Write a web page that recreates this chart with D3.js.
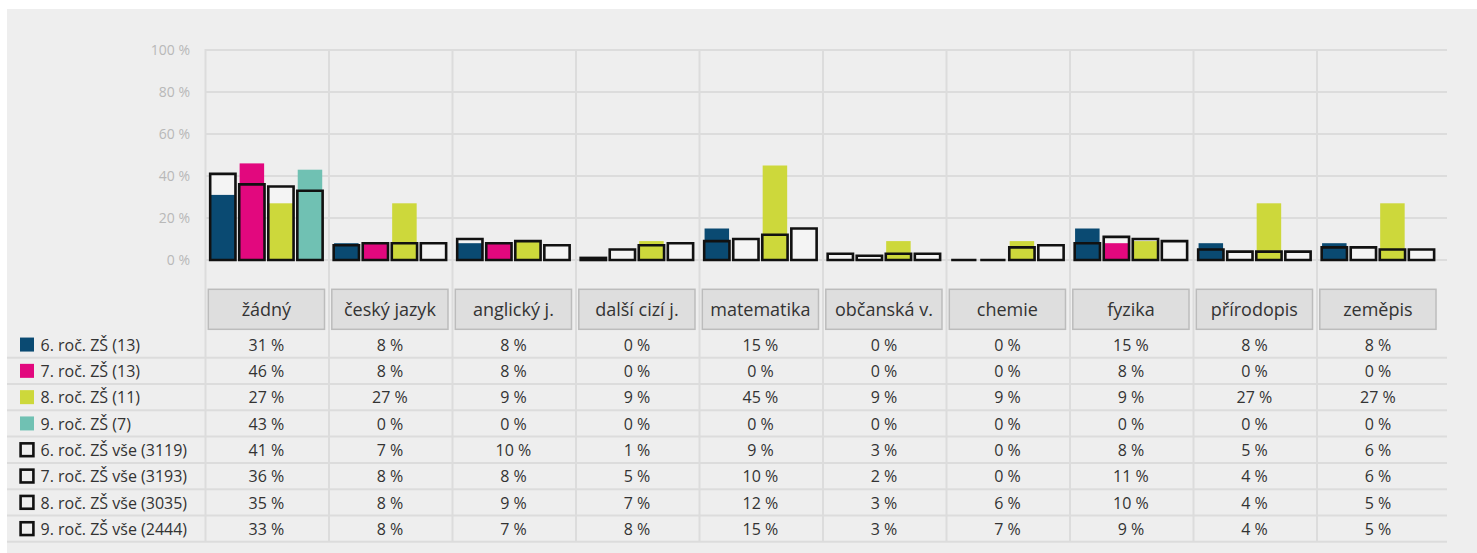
<!DOCTYPE html>
<html>
<head>
<meta charset="utf-8">
<script src="https://cdn.jsdelivr.net/npm/d3@7"></script>
<style>
  html, body { margin: 0; padding: 0; background: #ffffff; }
  svg { display: block; font-family: "Open Sans", "Noto Sans", sans-serif; }
</style>
</head>
<body>
<svg id="chart" width="1477" height="553"></svg>
<script>
const categories = ["žádný", "český jazyk", "anglický j.", "další cizí j.", "matematika", "občanská v.", "chemie", "fyzika", "přírodopis", "zeměpis"];
const yTicks = [0, 20, 40, 60, 80, 100];

const seriesNames = ["6. roč. ZŠ (13)", "7. roč. ZŠ (13)", "8. roč. ZŠ (11)", "9. roč. ZŠ (7)"];
const seriesColors = ["#0a4a72", "#e2087e", "#cdd83b", "#70c1b3"];
const s6 = [31, 8, 8, 0, 15, 0, 0, 15, 8, 8];
const s7 = [46, 8, 8, 0, 0, 0, 0, 8, 0, 0];
const s8 = [27, 27, 9, 9, 45, 9, 9, 9, 27, 27];
const s9 = [43, 0, 0, 0, 0, 0, 0, 0, 0, 0];

const allNames = ["6. roč. ZŠ vše (3119)", "7. roč. ZŠ vše (3193)", "8. roč. ZŠ vše (3035)", "9. roč. ZŠ vše (2444)"];
const a6 = [41, 7, 10, 1, 9, 3, 0, 8, 5, 6];
const a7 = [36, 8, 8, 5, 10, 2, 0, 11, 4, 6];
const a8 = [35, 8, 9, 7, 12, 3, 6, 10, 4, 5];
const a9 = [33, 8, 7, 8, 15, 3, 7, 9, 4, 5];

const colored = [s6, s7, s8, s9];
const outlined = [a6, a7, a8, a9];

const svg = d3.select("#chart");

// panel
svg.append("rect").attr("x", 7).attr("y", 9).attr("width", 1470).attr("height", 544).attr("fill", "#eeeeee");

const x0 = d3.scaleBand().domain(categories).range([205.5, 1440.5]).padding(0);
const innerLeft = 2.8, groupW = 116.2;
const x1 = d3.scaleBand().domain([0, 1, 2, 3]).range([0, groupW]).padding(0);
const y = d3.scaleLinear().domain([0, 100]).range([260, 50]);

const gridColor = "#dcdcdc";
const plotRight = 1447;

// horizontal gridlines
svg.append("g").selectAll("line").data(yTicks).join("line")
  .attr("x1", 205).attr("x2", plotRight)
  .attr("y1", d => y(d)).attr("y2", d => y(d))
  .attr("stroke", gridColor).attr("stroke-width", 2);

// table geometry
const rowTop = 331.4, rowH = 26.3;
const rowNames = seriesNames.concat(allNames);
const rowData = colored.concat(outlined);

// vertical lines
svg.append("g").selectAll("line").data(categories).join("line")
  .attr("x1", d => x0(d)).attr("x2", d => x0(d))
  .attr("y1", y(100) - 1).attr("y2", rowTop + rowH * rowData.length)
  .attr("stroke", gridColor).attr("stroke-width", 2);

// row separators
svg.append("g").selectAll("line").data(rowData).join("line")
  .attr("x1", 7).attr("x2", plotRight)
  .attr("y1", (d, i) => rowTop + rowH * (i + 1)).attr("y2", (d, i) => rowTop + rowH * (i + 1))
  .attr("stroke", gridColor).attr("stroke-width", 2);

// y axis labels
svg.append("g").selectAll("text").data(yTicks).join("text")
  .attr("x", 190).attr("y", d => y(d)).attr("dy", "0.35em")
  .attr("text-anchor", "end").attr("font-size", 14).attr("fill", "#b8b8b8")
  .text(d => d + " %");

const bw = x1.bandwidth();
const colW = 24.5, outW = 27.8 - 2.5;
const outX = (ci, si) => x0(categories[ci]) + innerLeft + x1(si) + (bw - outW) / 2;

// outline fills (behind)
outlined.forEach((arr, si) => {
  svg.append("g").selectAll("rect").data(arr).join("rect")
    .attr("x", (d, ci) => outX(ci, si))
    .attr("width", outW)
    .attr("y", d => y(d)).attr("height", d => y(0) - y(d))
    .attr("fill", "#f4f4f4");
});

// coloured bars
colored.forEach((arr, si) => {
  svg.append("g").selectAll("rect").data(arr).join("rect")
    .attr("x", (d, ci) => x0(categories[ci]) + innerLeft + x1(si) + (bw - colW) / 2)
    .attr("width", colW)
    .attr("y", d => y(d)).attr("height", d => y(0) - y(d))
    .attr("fill", seriesColors[si]);
});

// outline strokes (on top), as paths so that 0 % still shows a line
outlined.forEach((arr, si) => {
  svg.append("g").selectAll("path").data(arr).join("path")
    .attr("d", (d, ci) => {
      const x = outX(ci, si), yt = y(d), yb = y(0);
      return `M${x},${yb}V${yt}H${x + outW}V${yb}Z`;
    })
    .attr("fill", "none").attr("stroke", "#111").attr("stroke-width", 2.6)
    .attr("stroke-linejoin", "miter");
});

// category label boxes
const lab = svg.append("g").selectAll("g").data(categories).join("g")
  .attr("transform", d => `translate(${x0(d) + innerLeft},289.3)`);
lab.append("rect").attr("width", groupW).attr("height", 40)
  .attr("fill", "#dedede").attr("stroke", "#bcbcbc").attr("stroke-width", 1.5);
lab.append("text").attr("x", groupW / 2).attr("y", 20).attr("dy", "0.35em")
  .attr("text-anchor", "middle").attr("font-size", 18).attr("fill", "#333")
  .text(d => d);

// legend + values rows
rowData.forEach((arr, ri) => {
  const cy = rowTop + rowH * ri + rowH / 2;
  if (ri < 4) {
    svg.append("rect").attr("x", 20).attr("y", cy - 7).attr("width", 14).attr("height", 14)
      .attr("fill", seriesColors[ri]);
  } else {
    svg.append("rect").attr("x", 20.6).attr("y", cy - 6.4).attr("width", 12.8).attr("height", 12.8)
      .attr("fill", "none").attr("stroke", "#111").attr("stroke-width", 2.6);
  }
  svg.append("text").attr("x", 40.5).attr("y", cy + 0.5).attr("dy", "0.36em")
    .attr("font-size", 16).attr("fill", "#333").text(rowNames[ri]);
  svg.append("g").selectAll("text").data(arr).join("text")
    .attr("x", (d, ci) => x0(categories[ci]) + innerLeft + groupW / 2)
    .attr("y", cy + 0.5).attr("dy", "0.36em")
    .attr("text-anchor", "middle").attr("font-size", 16).attr("fill", "#333")
    .text(d => d + " %");
});
</script>
</body>
</html>
